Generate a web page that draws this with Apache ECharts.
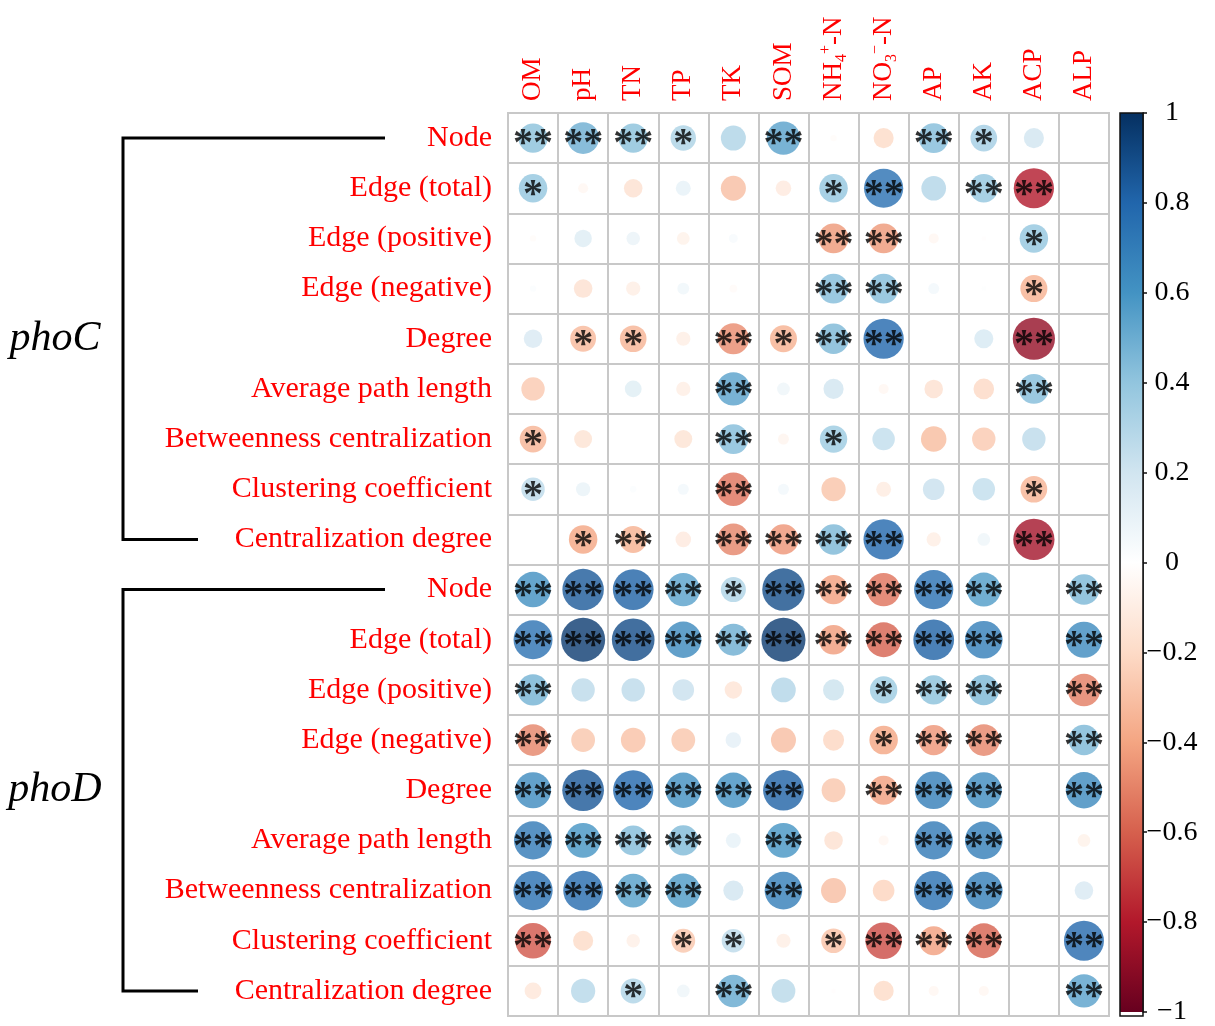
<!DOCTYPE html>
<html>
<head>
<meta charset="utf-8">
<title>phoC / phoD network properties vs soil properties</title>
<script src="https://cdn.jsdelivr.net/npm/echarts@6/dist/echarts.min.js"></script>
<style>
  html, body { margin: 0; padding: 0; background: #fff; }
  #chart { width: 1215px; height: 1026px; }
</style>
</head>
<body>
<div id="chart"></div>
<script>
  // columns (soil / enzyme variables)
  const soilVars = ['OM', 'pH', 'TN', 'TP', 'TK', 'SOM', 'NH4+-N', 'NO3--N', 'AP', 'AK', 'ACP', 'ALP']
  // rows, repeated for each gene network
  const networkProps = ['Node', 'Edge (total)', 'Edge (positive)', 'Edge (negative)', 'Degree',
    'Average path length', 'Betweenness centralization', 'Clustering coefficient', 'Centralization degree']
  const groups = ['phoC', 'phoD']

  // correlation r (null = blank cell)
  const phoCCorr = [
    [0.42, 0.50, 0.42, 0.32, 0.31, 0.55, -0.02, -0.20, 0.44, 0.35, 0.20, null],
    [0.40, -0.05, -0.17, 0.11, -0.31, -0.12, 0.40, 0.76, 0.30, 0.40, -0.80, null],
    [-0.02, 0.15, 0.09, -0.08, 0.04, null, -0.44, -0.44, -0.05, -0.01, 0.40, null],
    [0.02, -0.17, -0.10, 0.07, -0.03, null, 0.44, 0.44, 0.06, 0.01, -0.36, null],
    [0.17, -0.33, -0.35, -0.10, -0.48, -0.36, 0.46, 0.80, null, 0.18, -0.88, null],
    [-0.27, null, 0.14, -0.10, 0.55, 0.08, 0.20, -0.05, -0.17, -0.21, 0.44, null],
    [-0.35, -0.16, null, -0.16, 0.44, -0.06, 0.37, 0.25, -0.32, -0.27, 0.27, null],
    [0.27, 0.10, 0.02, 0.06, -0.55, 0.06, -0.29, -0.11, 0.23, 0.25, -0.35, null],
    [null, -0.40, -0.36, -0.12, -0.50, -0.45, 0.46, 0.80, -0.10, 0.08, -0.84, null]
  ]
  // significance: 1 = *, 2 = **
  const phoCSig = [
    [2, 2, 2, 1, 0, 2, 0, 0, 2, 1, 0, 0],
    [1, 0, 0, 0, 0, 0, 1, 2, 0, 2, 2, 0],
    [0, 0, 0, 0, 0, 0, 2, 2, 0, 0, 1, 0],
    [0, 0, 0, 0, 0, 0, 2, 2, 0, 0, 1, 0],
    [0, 1, 1, 0, 2, 1, 2, 2, 0, 0, 2, 0],
    [0, 0, 0, 0, 2, 0, 0, 0, 0, 0, 2, 0],
    [1, 0, 0, 0, 2, 0, 1, 0, 0, 0, 0, 0],
    [1, 0, 0, 0, 2, 0, 0, 0, 0, 0, 1, 0],
    [0, 1, 2, 0, 2, 2, 2, 2, 0, 0, 2, 0]
  ]
  const phoDCorr = [
    [0.62, 0.85, 0.82, 0.55, 0.31, 0.89, -0.42, -0.55, 0.76, 0.57, null, 0.46],
    [0.75, 0.96, 0.90, 0.65, 0.50, 0.96, -0.43, -0.60, 0.82, 0.70, null, 0.64],
    [0.48, 0.27, 0.27, 0.23, -0.15, 0.30, 0.22, 0.37, 0.42, 0.46, null, -0.52],
    [-0.50, -0.28, -0.30, -0.28, 0.12, -0.31, -0.22, -0.40, -0.45, -0.50, null, 0.46],
    [0.64, 0.86, 0.80, 0.62, 0.62, 0.82, -0.28, -0.42, 0.70, 0.64, null, 0.65],
    [0.72, 0.60, 0.44, 0.45, 0.11, 0.60, -0.17, -0.05, 0.72, 0.70, null, -0.08],
    [0.76, 0.78, 0.56, 0.58, 0.20, 0.70, -0.31, -0.23, 0.76, 0.70, null, 0.17],
    [-0.63, -0.20, -0.09, -0.28, 0.27, -0.10, -0.30, -0.66, -0.42, -0.60, null, 0.79],
    [-0.14, 0.29, 0.31, 0.08, 0.52, 0.28, -0.01, -0.20, -0.05, -0.05, null, 0.55]
  ]
  const phoDSig = [
    [2, 2, 2, 2, 1, 2, 2, 2, 2, 2, 0, 2],
    [2, 2, 2, 2, 2, 2, 2, 2, 2, 2, 0, 2],
    [2, 0, 0, 0, 0, 0, 0, 1, 2, 2, 0, 2],
    [2, 0, 0, 0, 0, 0, 0, 1, 2, 2, 0, 2],
    [2, 2, 2, 2, 2, 2, 0, 2, 2, 2, 0, 2],
    [2, 2, 2, 2, 0, 2, 0, 0, 2, 2, 0, 0],
    [2, 2, 2, 2, 0, 2, 0, 0, 2, 2, 0, 0],
    [2, 0, 0, 1, 1, 0, 1, 2, 2, 2, 0, 2],
    [0, 0, 1, 0, 2, 0, 0, 0, 0, 0, 0, 2]
  ]

  // colour bar runs from -1 to 1
  const colorbarEnds = [1, -1]
  const rdbu = ['#67001F', '#B2182B', '#D6604D', '#F4A582', '#FDDBC7', '#FFFFFF',
    '#D1E5F0', '#92C5DE', '#4393C3', '#2166AC', '#053061']

  // layout
  const GRID_LEFT = 508, GRID_TOP = 113, GRID_W = 601, GRID_H = 903
  const CB_LEFT = 1120, CB_W = 23
  const SERIF = '"Liberation Serif", "Times New Roman", serif'

  const rowLabels = networkProps.concat(networkProps)
  const cells = []
  ;[phoCCorr, phoDCorr].forEach(function (mat, g) {
    const sig = g === 0 ? phoCSig : phoDSig
    mat.forEach(function (row, i) {
      row.forEach(function (r, j) {
        if (r === null) return
        cells.push({ value: [j, g * networkProps.length + i, r], stars: '*'.repeat(sig[i][j]) })
      })
    })
  })

  function colLabel (name) {
    if (name === 'NH4+-N') return '{b|NH}{s|4}{p|+}{b|-N}'
    if (name === 'NO3--N') return '{b|NO}{s|3}{p|\u2212}{b|-N}'
    return '{b|' + name + '}'
  }

  function gradStops (cols) {
    return cols.map(function (c, k) { return { offset: k / (cols.length - 1), color: c } })
  }

  const chart = echarts.init(document.getElementById('chart'))
  const option = {
    animation: false,
    backgroundColor: '#fff',
    grid: [
      { left: GRID_LEFT, top: GRID_TOP, width: GRID_W, height: GRID_H, show: true, borderColor: '#C8C8C8', borderWidth: 2 },
      { left: CB_LEFT, top: GRID_TOP, width: CB_W, height: GRID_H }
    ],
    xAxis: [
      {
        type: 'category', gridIndex: 0, position: 'top', data: soilVars,
        axisLine: { show: false }, axisTick: { show: false },
        splitLine: { show: true, lineStyle: { color: '#C8C8C8', width: 2 } },
        axisLabel: {
          rotate: -90, margin: 12, color: '#FF0000', formatter: colLabel,
          rich: {
            b: { fontFamily: SERIF, fontSize: 27, color: '#FF0000', lineHeight: 32 },
            s: { fontFamily: SERIF, fontSize: 16, color: '#FF0000', verticalAlign: 'bottom', lineHeight: 16 },
            p: { fontFamily: SERIF, fontSize: 16, color: '#FF0000', verticalAlign: 'top', lineHeight: 16 }
          }
        }
      },
      { type: 'category', gridIndex: 1, data: ['r'], show: false }
    ],
    yAxis: [
      {
        type: 'category', gridIndex: 0, inverse: true, data: rowLabels,
        axisLine: { show: false }, axisTick: { show: false },
        splitLine: { show: true, lineStyle: { color: '#C8C8C8', width: 2 } },
        axisLabel: { margin: 16, color: '#FF0000', fontFamily: SERIF, fontSize: 30 }
      },
      {
        type: 'value', gridIndex: 1, position: 'right', min: -1, max: 1, interval: 0.2,
        splitLine: { show: false },
        axisLine: { show: true, lineStyle: { color: '#111', width: 1.5 } },
        axisTick: { show: true, length: 4, lineStyle: { color: '#111', width: 1.5 } },
        axisLabel: {
          align: 'center', margin: 29, color: '#000', fontFamily: SERIF, fontSize: 28,
          formatter: function (v) {
            const n = Number(v.toFixed(1))
            return n < 0 ? '\u2212' + Math.abs(n) : String(n)
          }
        }
      }
    ],
    visualMap: {
      show: false, type: 'continuous', seriesIndex: 0, dimension: 2,
      min: -1, max: 1, inRange: { color: rdbu }
    },
    series: [
      {
        type: 'scatter', xAxisIndex: 0, yAxisIndex: 0, data: cells,
        symbol: 'circle',
        symbolSize: function (val) { return 45 * Math.sqrt(Math.abs(val[2])) },
        label: {
          show: true, position: 'inside', color: '#000', fontFamily: SERIF, fontSize: 40,
          fontWeight: 'bold', offset: [0, 7],
          formatter: function (p) { return p.data.stars }
        },
        emphasis: { disabled: true }
      },
      {
        type: 'bar', xAxisIndex: 1, yAxisIndex: 1, barWidth: '100%', barGap: '-100%',
        data: [colorbarEnds[0]],
        itemStyle: { color: new echarts.graphic.LinearGradient(0, 0, 0, 1, gradStops(rdbu.slice(5).reverse())) },
        emphasis: { disabled: true }
      },
      {
        type: 'bar', xAxisIndex: 1, yAxisIndex: 1, barWidth: '100%', barGap: '-100%',
        data: [colorbarEnds[1]],
        itemStyle: { color: new echarts.graphic.LinearGradient(0, 0, 0, 1, gradStops(rdbu.slice(0, 6).reverse())) },
        emphasis: { disabled: true }
      }
    ]
  }
  chart.setOption(option)

  // group brackets and colour bar frame, placed from the row positions
  const nRows = networkProps.length
  const graphics = []
  groups.forEach(function (name, g) {
    const yTop = chart.convertToPixel({ gridIndex: 0 }, [0, g * nRows])[1]
    const yBot = chart.convertToPixel({ gridIndex: 0 }, [0, g * nRows + nRows - 1])[1]
    graphics.push({
      type: 'polyline', silent: true,
      shape: { points: [[385, yTop], [123, yTop], [123, yBot], [198, yBot]] },
      style: { stroke: '#000', lineWidth: 3, fill: null }
    })
    graphics.push({
      type: 'text', silent: true, x: 55, y: (yTop + yBot) / 2,
      style: {
        text: name, fill: '#000', font: 'italic 42px ' + SERIF,
        textAlign: 'center', textVerticalAlign: 'middle'
      }
    })
  })
  graphics.push({
    type: 'rect', silent: true, z: 10,
    shape: { x: CB_LEFT, y: GRID_TOP, width: CB_W, height: GRID_H },
    style: { stroke: '#111', lineWidth: 1.5, fill: null }
  })
  chart.setOption({ graphic: graphics })
</script>
</body>
</html>
